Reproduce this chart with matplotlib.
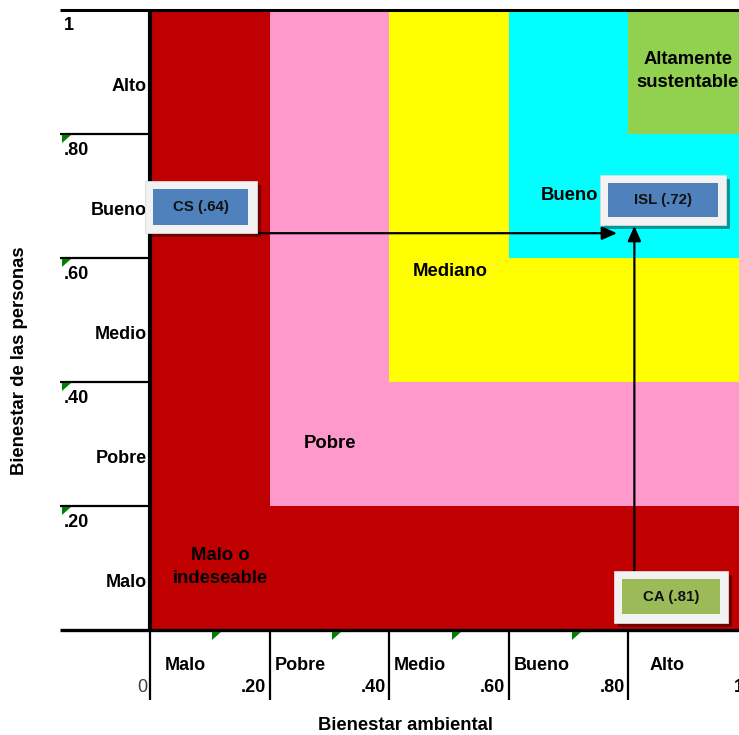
import matplotlib
matplotlib.use("Agg")
import matplotlib.pyplot as plt
from matplotlib.patches import Rectangle, Polygon

plt.rcParams['font.family'] = ['Liberation Sans', 'DejaVu Sans']

# ---------------- data ----------------
zone_bounds = [0.0, 0.2, 0.4, 0.6, 0.8]
zone_colors = ['#C00000', '#FF99CC', '#FFFF00', '#00FFFF', '#92D050']
zone_labels = ['Malo o\nindeseable', 'Pobre', 'Mediano', 'Bueno', 'Altamente\nsustentable']

tick_values = [0.2, 0.4, 0.6, 0.8]
tick_labels = ['.20', '.40', '.60', '.80']
category_labels = ['Malo', 'Pobre', 'Medio', 'Bueno', 'Alto']

cs_value = 0.64   # Bienestar de las personas
ca_value = 0.81   # Bienestar ambiental
isl_value = 0.72  # Indice
cs_label = 'CS (.64)'
ca_label = 'CA (.81)'
isl_label = 'ISL (.72)'

xlabel = 'Bienestar ambiental'
ylabel = 'Bienestar de las personas'

# ---------------- layout ----------------
W, H = 739, 735
X0, X1 = 150, 748    # pixel x of data 0 and 1
Y0, Y1 = 630, 10     # pixel y of data 0 and 1

def dx(px):
    return (px - X0) / (X1 - X0)

def dy(py):
    return (Y0 - py) / (Y0 - Y1)

fig = plt.figure(figsize=(W / 100, H / 100), dpi=100)
ax = fig.add_axes([X0 / W, (H - Y0) / H, (X1 - X0) / W, (Y0 - Y1) / H])
ax.set_xlim(0, 1)
ax.set_ylim(0, 1)
ax.axis('off')

# nested zones
for b, c in zip(zone_bounds, zone_colors):
    ax.add_patch(Rectangle((b, b), 1 - b, 1 - b, facecolor=c, edgecolor='none', zorder=1))

# zone labels
zone_label_pos = [(220, 567), (330, 444), (450, 272), (569, 196), (688, 71)]
for lab, (px, py) in zip(zone_labels, zone_label_pos):
    ax.text(dx(px), dy(py), lab, ha='center', va='center', fontsize=13.3,
            fontweight='bold', color='black', linespacing=1.5, zorder=3)

# frame lines
kw = dict(color='black', clip_on=False, zorder=4, solid_capstyle='butt')
ax.plot([dx(60), 1.05], [1, 1], lw=2.2, **kw)
ax.plot([dx(60), 1.05], [0, 0], lw=2.4, **kw)
ax.plot([0, 0], [0, 1], lw=3.0, **kw)
for t in tick_values:
    ax.plot([dx(60), 0], [t, t], lw=1.6, **kw)
for t in [0.0] + tick_values:
    ax.plot([t, t], [dy(700), 0], lw=1.6, **kw)

# little green markers
for t in tick_values:
    py = Y0 - t * (Y0 - Y1)
    ax.add_patch(Polygon([(dx(62), dy(py + 1)), (dx(71), dy(py + 1)), (dx(62), dy(py + 9))],
                         closed=True, facecolor='#008000', edgecolor='none', clip_on=False, zorder=4))
for px in [212, 332, 452, 572]:
    ax.add_patch(Polygon([(dx(px), dy(632)), (dx(px + 9), dy(632)), (dx(px), dy(640))],
                         closed=True, facecolor='#008000', edgecolor='none', clip_on=False, zorder=4))

# y axis labels
tfs = 13
ax.text(dx(64), dy(25), '1', ha='left', va='center', fontsize=tfs, fontweight='bold', clip_on=False)
for t, lab in zip(tick_values, tick_labels):
    ax.text(dx(64), t - 0.026, lab, ha='left', va='center', fontsize=tfs, fontweight='bold', clip_on=False)
for i, lab in enumerate(category_labels):
    ax.text(dx(147), i * 0.2 + 0.077, lab, ha='right', va='center', fontsize=tfs,
            fontweight='bold', clip_on=False)

# x axis labels
ax.text(dx(147), dy(688), '0', ha='right', va='center', fontsize=tfs, color='#404040', clip_on=False)
for t, lab in zip(tick_values, tick_labels):
    ax.text(t - 0.006, dy(688), lab, ha='right', va='center', fontsize=tfs, fontweight='bold', clip_on=False)
ax.text(dx(734), dy(688), '1', ha='left', va='center', fontsize=tfs, fontweight='bold', clip_on=False)
xcat_left = [165, 275, 394, 514, 650]
for lab, px in zip(category_labels, xcat_left):
    ax.text(dx(px), dy(666), lab, ha='left', va='center', fontsize=tfs, fontweight='bold', clip_on=False)

fig.text(405 / W, 1 - 725 / H, xlabel, ha='center', va='center', fontsize=13.3, fontweight='bold')
fig.text(20 / W, 1 - 361 / H, ylabel, ha='center', va='center', fontsize=13.3, fontweight='bold',
         rotation=90)

# arrows
ax.annotate('', xy=(dx(617), cs_value), xytext=(dx(257), cs_value),
            arrowprops=dict(arrowstyle='-|>,head_length=0.9,head_width=0.4', color='black', lw=1.6,
                            shrinkA=0, shrinkB=0), zorder=5)
ax.annotate('', xy=(ca_value, dy(226)), xytext=(ca_value, dy(571)),
            arrowprops=dict(arrowstyle='-|>,head_length=0.9,head_width=0.4', color='black', lw=1.6,
                            shrinkA=0, shrinkB=0), zorder=5)

# value boxes
def value_box(outer, inner, color, text):
    x0, y0, x1, y1 = outer
    # shadow
    ax.add_patch(Rectangle((dx(x0 + 4), dy(y1 + 4)), dx(x1 + 4) - dx(x0 + 4), dy(y0 + 4) - dy(y1 + 4),
                           facecolor='black', alpha=0.4, edgecolor='none', clip_on=False, zorder=6))
    ax.add_patch(Rectangle((dx(x0), dy(y1)), dx(x1) - dx(x0), dy(y0) - dy(y1),
                           facecolor='#F2F2F2', edgecolor='#D9D9D9', lw=0.6, clip_on=False, zorder=7))
    ix0, iy0, ix1, iy1 = inner
    ax.add_patch(Rectangle((dx(ix0), dy(iy1)), dx(ix1) - dx(ix0), dy(iy0) - dy(iy1),
                           facecolor=color, edgecolor='none', clip_on=False, zorder=8))
    ax.text(dx((ix0 + ix1) / 2), dy((iy0 + iy1) / 2), text, ha='center', va='center',
            fontsize=10.8, fontweight='bold', color='#111111', zorder=9)

value_box((145, 181, 257, 233), (153, 189, 248, 225), '#4F81BD', cs_label)
value_box((600, 175, 726, 225), (608, 183, 718, 217), '#4F81BD', isl_label)
value_box((614, 571, 728, 623), (622, 579, 720, 614), '#9BBB59', ca_label)

fig.savefig('out.png', dpi=100)
